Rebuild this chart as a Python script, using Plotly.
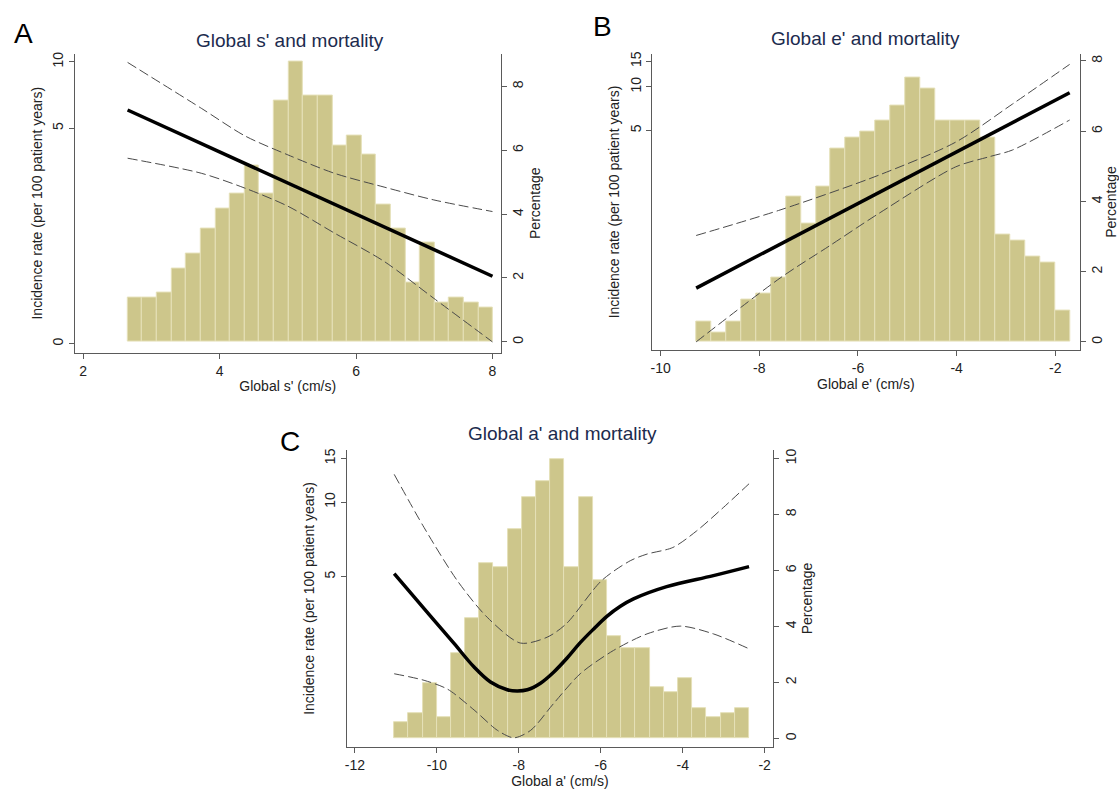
import plotly.graph_objects as go

# ---------------- data ----------------
# Panel A: Global s'
a_bin_start = 2.65
a_bin_width = 0.2144
a_pct = [1.40, 1.40, 1.55, 2.31, 2.77, 3.55, 4.16, 4.63, 5.53, 4.63, 7.55, 8.78, 7.71,
         7.71, 6.15, 6.47, 5.86, 4.30, 3.55, 1.85, 3.10, 1.22, 1.38, 1.22, 1.06]
a_fit_x = [2.65, 8.0]
a_fit = [6.05, 1.07]
a_up_x = [2.65, 3.73, 4.37, 5.0, 5.68, 6.41, 7.14, 8.0]
a_up = [9.93, 6.16, 4.62, 3.79, 3.13, 2.71, 2.37, 2.10]
a_lo_x = [2.65, 3.73, 4.37, 5.0, 5.68, 6.41, 7.14, 8.0]
a_lo = [3.66, 3.13, 2.68, 2.22, 1.68, 1.25, 0.85, 0.54]

# Panel B: Global e'
b_bin_start = -9.28
b_bin_width = 0.303
b_pct = [0.59, 0.27, 0.59, 1.20, 1.37, 1.82, 4.14, 3.36, 4.43, 5.51, 5.82, 5.98, 6.29,
         6.74, 7.52, 7.20, 6.29, 6.29, 6.29, 5.82, 3.05, 2.89, 2.44, 2.27, 0.90]
b_fit_x = [-9.28, -1.71]
b_fit = [0.407, 9.10]
b_up_x = [-9.28, -7.58, -5.57, -4.02, -2.87, -1.71]
b_up = [0.94, 1.41, 2.46, 4.15, 7.6, 14.3]
b_lo_x = [-9.28, -7.58, -6.57, -5.57, -4.02, -3.34, -2.87, -1.71]
b_lo = [0.173, 0.477, 0.80, 1.34, 2.80, 3.29, 3.66, 5.90]

# Panel C: Global a'
c_bin_start = -11.04
c_bin_width = 0.3464
c_pct = [0.59, 0.90, 1.97, 0.75, 3.06, 4.29, 6.27, 6.12, 7.49, 8.61, 9.21, 9.99, 6.12,
         8.61, 5.67, 3.66, 3.22, 3.22, 1.82, 1.65, 2.14, 1.07, 0.75, 0.90, 1.07]
c_fit_x = [-11.04, -10.55, -10.07, -9.58, -9.09, -8.69, -8.28, -8.04, -7.79, -7.47, -7.15,
           -6.82, -6.50, -6.17, -5.85, -5.52, -5.20, -4.39, -3.25, -2.38]
c_fit = [5.15, 4.14, 3.34, 2.69, 2.16, 1.88, 1.75, 1.73, 1.75, 1.86, 2.06,
         2.35, 2.71, 3.08, 3.46, 3.80, 4.07, 4.56, 5.05, 5.49]
c_up_x = [-11.04, -10.31, -9.50, -8.77, -7.96, -7.31, -6.84, -5.98, -5.28, -4.87, -4.24, -3.66, -3.01, -2.38]
c_up = [12.94, 7.89, 4.82, 3.43, 2.70, 2.85, 3.23, 4.82, 5.80, 6.17, 6.56, 7.65, 9.50, 11.86]
c_lo_x = [-11.04, -10.31, -9.74, -9.09, -8.52, -8.12, -7.71, -7.15, -6.50, -5.69, -4.87, -4.06, -3.25, -2.38]
c_lo = [2.03, 1.91, 1.76, 1.45, 1.20, 1.12, 1.20, 1.54, 2.03, 2.52, 2.94, 3.16, 2.94, 2.56]

# tick labels
a_xticks = [2, 4, 6, 8]
b_xticks = [-10, -8, -6, -4, -2]
c_xticks = [-12, -10, -8, -6, -4, -2]
a_rate_ticks = [0.53, 5, 10]
a_rate_text = ["0", "5", "10"]
bc_rate_ticks = [5, 10, 15]
bc_rate_text = ["5", "10", "15"]
ab_pct_ticks = [0, 2, 4, 6, 8]
c_pct_ticks = [0, 2, 4, 6, 8, 10]

titles = ["Global s' and mortality", "Global e' and mortality", "Global a' and mortality"]
xtitles = ["Global s' (cm/s)", "Global e' (cm/s)", "Global a' (cm/s)"]
letters = ["A", "B", "C"]

# ---------------- styling ----------------
W, H = 1119, 792
FONT = "Liberation Sans, Arial, sans-serif"
BAR_FILL = "#cdc68b"
BAR_EDGE = "#e5e0b8"
AX_COL = "#5a5a5a"
TITLE_COL = "#1c2b4e"
FS = 14

panels = [
    dict(bs=a_bin_start, bw=a_bin_width, pct=a_pct, fx=a_fit_x, fy=a_fit,
         ux=a_up_x, uy=a_up, lx=a_lo_x, ly=a_lo,
         px=(73, 500), py=(51.7, 351.7),
         xr=[1.876, 8.12], lr=[-0.317, 1.037], rr=[-0.344, 9.03],
         xt=a_xticks, lt=a_rate_ticks, ltt=a_rate_text, rt=ab_pct_ticks,
         title_pos=(289, 39), letter_pos=(22, 32)),
    dict(bs=b_bin_start, bw=b_bin_width, pct=b_pct, fx=b_fit_x, fy=b_fit,
         ux=b_up_x, uy=b_up, lx=b_lo_x, ly=b_lo,
         px=(652, 1080.4), py=(51.7, 349.3),
         xr=[-10.17, -1.51], lr=[-0.821, 1.230], rr=[-0.244, 8.21],
         xt=b_xticks, lt=bc_rate_ticks, ltt=bc_rate_text, rt=ab_pct_ticks,
         title_pos=(866, 37), letter_pos=(602, 25)),
    dict(bs=c_bin_start, bw=c_bin_width, pct=c_pct, fx=c_fit_x, fy=c_fit,
         ux=c_up_x, uy=c_up, lx=c_lo_x, ly=c_lo,
         px=(346, 772.9), py=(449.3, 746.7),
         xr=[-12.19, -1.80], lr=[0.0128, 1.2095], rr=[-0.30, 10.30],
         xt=c_xticks, lt=bc_rate_ticks, ltt=bc_rate_text, rt=c_pct_ticks,
         title_pos=(562, 433), letter_pos=(289, 441)),
]

fig = go.Figure()
layout = dict(width=W, height=H, margin=dict(l=0, r=0, t=0, b=0),
              paper_bgcolor="white", plot_bgcolor="white",
              showlegend=False, bargap=0, barmode="overlay",
              font=dict(family=FONT, size=FS, color="#222222"))
annotations = []

for i, p in enumerate(panels):
    xn = "" if i == 0 else str(i + 1)
    yb = str(2 * i + 1)
    yo = str(2 * i + 2)
    xid = "x" + xn
    ybid = "y" + ("" if yb == "1" else yb)
    yoid = "y" + yo

    centers = [p["bs"] + p["bw"] * (k + 0.5) for k in range(len(p["pct"]))]
    fig.add_trace(go.Bar(x=centers, y=p["pct"], width=p["bw"],
                         marker=dict(color=BAR_FILL, line=dict(color=BAR_EDGE, width=1)),
                         xaxis=xid, yaxis=ybid, hoverinfo="skip"))
    dash = "10px,4px"
    fig.add_trace(go.Scatter(x=p["ux"], y=p["uy"], mode="lines",
                             line=dict(color="#4a4a4a", width=1, dash=dash, shape="spline", smoothing=0.8),
                             xaxis=xid, yaxis=yoid))
    fig.add_trace(go.Scatter(x=p["lx"], y=p["ly"], mode="lines",
                             line=dict(color="#4a4a4a", width=1, dash=dash, shape="spline", smoothing=0.8),
                             xaxis=xid, yaxis=yoid))
    fig.add_trace(go.Scatter(x=p["fx"], y=p["fy"], mode="lines",
                             line=dict(color="black", width=3.5, shape="spline", smoothing=1.0),
                             xaxis=xid, yaxis=yoid))

    xdom = [p["px"][0] / W, p["px"][1] / W]
    ydom = [1 - p["py"][1] / H, 1 - p["py"][0] / H]
    common_tick = dict(ticks="outside", ticklen=5, tickwidth=1, tickcolor=AX_COL,
                       showline=True, linecolor=AX_COL, linewidth=1,
                       showgrid=False, zeroline=False,
                       tickfont=dict(family=FONT, size=FS, color="#222222"))
    layout["xaxis" + xn] = dict(domain=xdom, range=p["xr"], anchor=ybid,
                                tickvals=p["xt"], ticktext=[str(v) for v in p["xt"]],
                                title=dict(text=xtitles[i], standoff=3,
                                           font=dict(family=FONT, size=FS, color="#222222")),
                                **common_tick)
    layout["yaxis" + ("" if yb == "1" else yb)] = dict(
        domain=ydom, range=p["rr"], anchor=xid, side="right",
        tickvals=p["rt"], ticktext=[str(v) for v in p["rt"]], tickangle=-90,
        title=dict(text="Percentage", standoff=4,
                   font=dict(family=FONT, size=FS, color="#222222")),
        **common_tick)
    layout["yaxis" + yo] = dict(
        overlaying=ybid, anchor=xid, side="left", type="log", range=p["lr"],
        tickvals=p["lt"], ticktext=p["ltt"], tickangle=-90,
        title=dict(text="Incidence rate (per 100 patient years)", standoff=4,
                   font=dict(family=FONT, size=FS, color="#222222")),
        **common_tick)

    annotations.append(dict(text=titles[i], x=p["title_pos"][0] / W, y=1 - p["title_pos"][1] / H,
                            xref="paper", yref="paper", showarrow=False,
                            xanchor="center", yanchor="middle",
                            font=dict(family=FONT, size=19, color=TITLE_COL)))
    annotations.append(dict(text=letters[i], x=p["letter_pos"][0] / W, y=1 - p["letter_pos"][1] / H,
                            xref="paper", yref="paper", showarrow=False,
                            xanchor="center", yanchor="middle",
                            font=dict(family=FONT, size=28, color="black")))

layout["annotations"] = annotations
fig.update_layout(**layout)
fig.write_html("out.html", config={"displayModeBar": False},
               post_script="document.body.style.margin='0px';")
